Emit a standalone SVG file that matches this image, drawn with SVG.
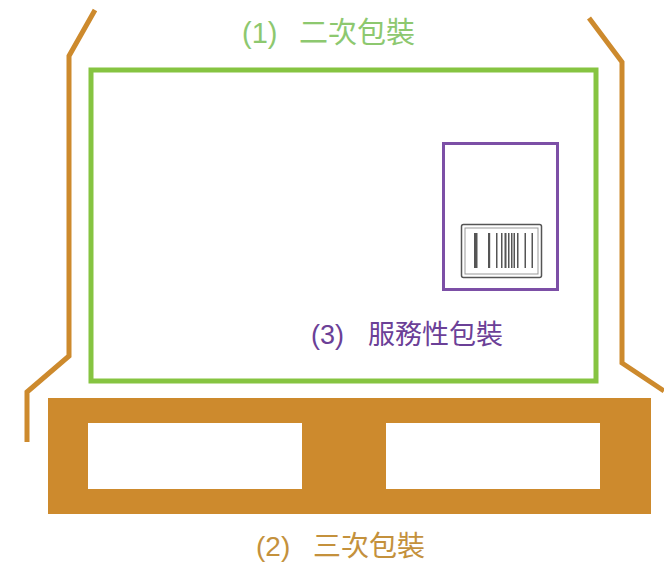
<svg xmlns="http://www.w3.org/2000/svg" width="664" height="564" viewBox="0 0 664 564">
<style>
.lbl{font-family:"Liberation Sans","Noto Sans CJK TC",sans-serif}
.bar{fill:#555}
</style>
<rect width="664" height="564" fill="#fff"/>
<g id="tertiary">
<polyline points="95,10 69,56 69,356 27,392 27,442" fill="none" stroke="#cd8a2d" stroke-width="5"/>
<polyline points="589,18 622,62 622,363 664,391" fill="none" stroke="#cd8a2d" stroke-width="5"/>
<path d="M48,398H651V514H48Z M88,423V489H302V423Z M386,423V489H600V423Z" fill="#cd8a2d" fill-rule="evenodd"/>
<text class="lbl" fill="#c4913c" y="556" font-size="28"><tspan x="256">(2)</tspan><tspan x="313">三次包裝</tspan></text>
</g>
<g id="secondary">
<rect x="91" y="70" width="505" height="311" fill="none" stroke="#86c441" stroke-width="5"/>
<text class="lbl" fill="#8dc86f" y="43" font-size="29"><tspan x="242">(1)</tspan><tspan x="299">二次包裝</tspan></text>
</g>
<g id="service">
<rect x="443.5" y="143.5" width="114" height="146" fill="none" stroke="#7c4fa6" stroke-width="3"/>
<rect x="461.5" y="224.5" width="80" height="53" rx="2" fill="none" stroke="#555" stroke-width="1.5"/>
<rect x="465" y="228" width="73" height="46" fill="none" stroke="#999" stroke-width="1"/>
<rect class="bar" x="474" y="233" width="3.5" height="35"/>
<rect class="bar" x="488" y="233" width="2.2" height="35"/>
<rect class="bar" x="496" y="233" width="1.5" height="35"/>
<rect class="bar" x="501" y="233" width="1.5" height="35"/>
<rect class="bar" x="504.5" y="233" width="2" height="35"/>
<rect class="bar" x="508" y="233" width="1.5" height="35"/>
<rect class="bar" x="511" y="233" width="1.5" height="35"/>
<rect class="bar" x="513.5" y="233" width="1.5" height="35"/>
<rect class="bar" x="517" y="233" width="1.5" height="35"/>
<rect class="bar" x="524.5" y="233" width="1.5" height="35"/>
<rect class="bar" x="531.5" y="233" width="1.5" height="35"/>
<text class="lbl" fill="#6b4097" y="344" font-size="27"><tspan x="311">(3)</tspan><tspan x="368">服務性包裝</tspan></text>
</g>
<g id="connectors"></g>
</svg>
